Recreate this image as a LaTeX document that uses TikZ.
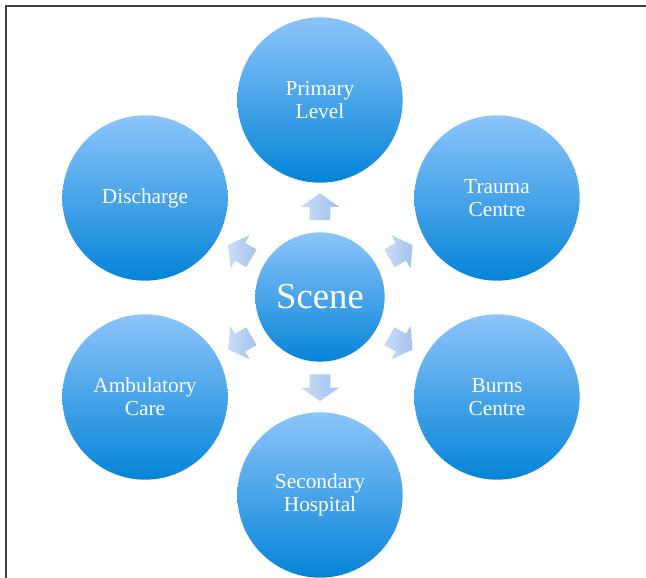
\documentclass[tikz,border=0pt]{standalone}
\usepackage{fontspec}
\setmainfont{Liberation Serif}
\usetikzlibrary{shapes.arrows,calc}

\tikzset{
  ring/.style={circle,inner sep=0pt,minimum size=124pt,
    bottom color=hubdark,top color=hublight,text=white,align=center,
    font=\fontsize{16}{17.5}\selectfont},
  pointer/.style={single arrow,inner xsep=0pt,inner ysep=7.5pt,minimum height=20pt,
    single arrow head extend=6.75pt,single arrow tip angle=110,
    left color=tiplight,right color=tipdark,draw=none}
}
\definecolor{hublight}{HTML}{8CC4FA}
\definecolor{hubdark}{HTML}{0584D8}
\definecolor{tiplight}{HTML}{C8DCF5}
\definecolor{tipdark}{HTML}{A4C2EE}

\begin{document}
\begin{tikzpicture}[x=0.75pt,y=-0.75pt]
\useasboundingbox (0,0) rectangle (646,578);
\draw [line width=1.2pt,black!75] (6,578) -- (6,6) -- (646,6);

\node (s) [ring,minimum size=97pt,font=\fontsize{27.5}{30}\selectfont] at (320,297) {Scene};
\node (p) [ring] at (320,100) {Primary\\Level};
\node (t) [ring] at (497,198) {Trauma\\Centre};
\node (b) [ring] at (497,397) {Burns\\Centre};
\node (h) [ring] at (320,495) {Secondary\\Hospital};
\node (a) [ring] at (145,397) {Ambulatory\\Care};
\node (d) [ring] at (145,198) {Discharge};

\foreach \ang/\nm in {90/p,30/t,-30/b,-90/h,-150/a,150/d}
  \node (arr-\nm) [pointer,rotate=\ang] at ($(s)!0.44!(\nm)$) {};
\end{tikzpicture}
\end{document}
